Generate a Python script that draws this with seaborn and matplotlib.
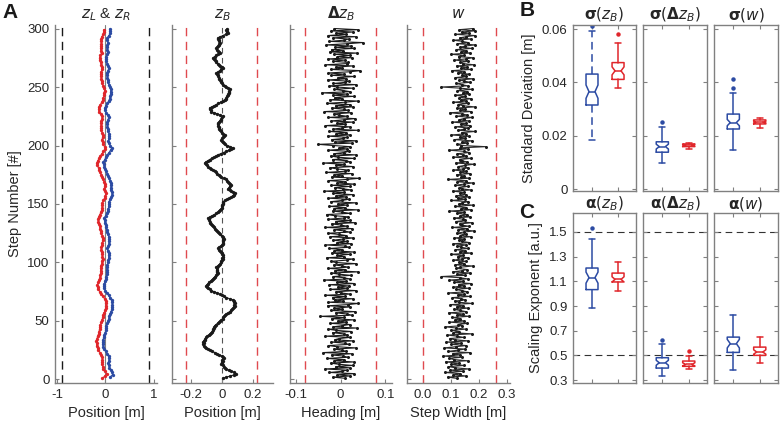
import numpy as np
import matplotlib
matplotlib.use('Agg')
import matplotlib.pyplot as plt
import seaborn as sns

# --- step-by-step traces (values in mm) ---
zB_mm = [5, 30, 55, 80, 95, 80, 62, 45, 30, 22,
         14, 6, -2, 3, -1, 8, 4, 12, 9, 0,
         -15, -28, -45, -60, -74, -86, -98, -110, -112, -118,
         -115, -120, -116, -110, -106, -100, -92, -84, -75, -67,
         -62, -58, -55, -50, -48, -45, -36, -26, -18, -9,
         -2, 6, 11, 15, 19, 30, 40, 52, 62, 68,
         74, 79, 84, 80, 83, 77, 79, 73, 52, 30,
         15, 2, -13, -30, -48, -67, -78, -88, -95, -100,
         -94, -88, -80, -72, -64, -56, -50, -43, -36, -30,
         -24, -28, -30, -33, -31, -34, -26, -19, -10, -6,
         -2, 3, 6, 4, 9, 6, 3, 1, -2, -10,
         -17, -24, -15, -6, 2, 9, 7, 11, 8, 12,
         10, 9, 0, -8, -16, -24, -30, -37, -44, -50,
         -56, -62, -67, -73, -78, -82, -85, -88, -74, -60,
         -47, -34, -26, -18, -10, -2, 0, 4, 2, 6,
         5, 9, 22, 36, 50, 62, 70, 78, 84, 73,
         62, 52, 41, 48, 55, 62, 56, 49, 42, 36,
         30, 14, -2, -11, -20, -28, -37, -45, -56, -66,
         -77, -88, -95, -103, -110, -100, -89, -78, -64, -50,
         -37, -24, -6, 12, 30, 44, 58, 73, 55, 37,
         19, 14, 8, 3, -2, 3, 9, 14, 19, 11,
         3, -5, -13, -15, -17, -19, -21, -22, -24, -18,
         -13, -7, -2, 4, 9, -10, -29, -48, -67, -71,
         -75, -78, -63, -49, -34, -21, -7, 6, 19, 25,
         30, 36, 41, 43, 45, 47, 49, 51, 40, 30,
         20, 9, 4, -2, -7, -13, -17, -20, -24, -27,
         -30, -34, -23, -12, -2, 9, 0, -8, -17, -26,
         -34, -40, -45, -51, -56, -45, -35, -24, -13, -18,
         -24, -29, -34, -29, -24, -19, -16, -13, -16, -19,
         -22, -24, -8, 8, 25, 41, 37, 34, 30, 35]

dzB_mm = [11, -17, 21, -7, 31, -25, 4, 14, -35, 20, -11, 27, -4, -22, 29, -14, 8, -31, 17, 6,
          -20, 25, -39, 13, 3, -15, 34, -8, -27, 18, 10, -21, 28, -13, -3, 22, -34, 15, 7, -18,
          24, -10, -28, 36, -17, 4, 20, -24, 13, -6, 29, -20, 8, -45, 25, 14, -11, 32, -22, 3,
          -14, 21, -29, 17, 40, -27, 6, -13, 27, -18, 11, -35, 22, 1, -10, 34, -24, 15, -6, 18,
          -25, 31, -8, 13, -38, 20, 7, -17, 24, -4, -21, 39, -13, 10, -28, 17, 4, -15, 35, -11,
          -22, 14, 27, -31, 8, -7, 21, -20, 29, -14, 3, -25, 18, 11, -34, 24, -8, 15, -18, 6,
          28, -24, 13, -4, -29, 20, 8, -14, 25, -35, 15, 0, -20, 32, -11, 22, -27, 7, 17, -13,
          -31, 21, 4, -18, 38, -15, 10, -25, 14, -6, 34, -22, 3, 18, -28, 13, -10, 27, -17, 8,
          -36, 24, 6, -13, 20, -21, 31, -7, 11, -27, 15, 42, -20, 4, -14, 25, -32, 10, 17, -8,
          -24, 28, -11, 7, -39, 21, 13, -18, 29, -6, -22, 34, -15, 8, 18, -28, 14, -3, 22, -17,
          -50, 25, -13, 35, -20, 6, 15, -29, 22, -10, 13, -25, 38, -17, 3, 20, -34, 11, -7, 27,
          -21, 8, 32, -27, 14, -4, -15, 24, -36, 17, 7, -20, 28, -11, 21, -31, 10, 39, -24, 4,
          -13, 29, -18, 15, -42, 22, 6, -14, 27, -8, -25, 35, -17, 11, 18, -29, 13, -6, 31, -21,
          8, -27, 20, 44, -22, 4, -11, 28, -34, 14, 17, -18, 10, -28, 25, -7, 21, -15, 36, -24,
          6, -20, 31, -13, 24, -32, 15, 50, -25, 8, 18, -17, 34, -28, 13, -10, 27, -21, 39, -14]

w_mm = [120, 88, 154, 109, 134, 78, 144, 98, 165, 116, 91, 148, 102, 129, 81, 159, 112, 94, 138, 73,
        133, 106, 168, 89, 124, 150, 77, 117, 155, 101, 137, 84, 162, 113, 96, 145, 122, 87, 175, 109,
        130, 99, 152, 119, 80, 141, 126, 158, 94, 147, 115, 134, 103, 165, 123, 143, 92, 154, 131, 110,
        161, 120, 144, 98, 176, 129, 113, 151, 136, 105, 168, 124, 145, 91, 157, 138, 117, 164, 108, 148,
        127, 172, 112, 143, 95, 159, 133, 66, 150, 122, 169, 106, 140, 157, 119, 134, 179, 115, 147, 130,
        154, 109, 138, 162, 124, 144, 99, 173, 131, 150, 116, 161, 137, 123, 155, 108, 166, 141, 129, 148,
        112, 171, 134, 152, 120, 145, 182, 126, 157, 105, 164, 138, 131, 175, 117, 151, 143, 110, 168, 133,
        158, 122, 148, 95, 172, 136, 154, 113, 179, 129, 141, 161, 102, 150, 124, 165, 119, 155, 134, 145,
        106, 171, 140, 130, 159, 115, 148, 178, 123, 152, 89, 164, 137, 147, 120, 168, 133, 155, 109, 144,
        162, 126, 150, 183, 117, 157, 138, 131, 172, 108, 154, 143, 123, 166, 147, 92, 159, 134, 224, 137,
        122, 158, 141, 175, 112, 151, 131, 165, 101, 155, 138, 187, 124, 148, 161, 116, 169, 136, 154, 105,
        164, 129, 145, 176, 119, 158, 140, 96, 171, 133, 151, 122, 185, 144, 126, 162, 109, 155, 137, 173,
        130, 150, 113, 166, 143, 157, 123, 176, 134, 66, 159, 138, 119, 169, 148, 130, 179, 115, 154, 141,
        165, 124, 147, 103, 172, 136, 157, 120, 182, 144, 133, 162, 112, 152, 178, 127, 145, 101, 168, 137,
        155, 119, 175, 134, 150, 186, 123, 161, 141, 108, 171, 131, 154, 185, 116, 164, 138, 185, 129, 180]

# left foot (odd steps) and right foot (even steps)
zL_mm = [-60, -8, 28, -5, -37, -50, -70, -64, -58, -58,
         -82, -108, -141, -160, -180, -178, -183, -170, -160, -138,
         -130, -118, -115, -99, -85, -66, -56, -44, -27, -2,
         8, 20, 17, 15, -14, -50, -80, -112, -145, -158,
         -162, -143, -131, -113, -103, -88, -97, -94, -93, -73,
         -69, -57, -58, -60, -69, -80, -82, -61, -60, -55,
         -57, -63, -83, -93, -111, -119, -134, -141, -152, -137,
         -114, -89, -77, -63, -65, -58, -45, -13, 4, 19,
         -3, -26, -8, -11, -23, -37, -66, -85, -102, -123,
         -140, -162, -175, -156, -127, -104, -69, -37, -5, -12,
         -48, -55, -69, -54, -48, -63, -80, -82, -88, -87,
         -80, -67, -58, -92, -134, -138, -130, -99, -74, -44,
         -37, -22, -22, -14, -27, -45, -63, -70, -84, -88,
         -97, -86, -69, -64, -84, -98, -112, -119, -101, -78,
         -91, -97, -91, -79, -83, -85, -75, -38, -30, -33]
zR_mm = [98, 150, 139, 113, 84, 74, 66, 77, 75, 68,
         36, 8, -18, -42, -55, -52, -47, -32, -21, 2,
         5, 17, 18, 41, 54, 73, 78, 97, 115, 136,
         142, 148, 140, 139, 93, 69, 34, 0, -25, -33,
         -21, -8, 11, 20, 37, 36, 30, 33, 44, 61,
         66, 71, 70, 68, 53, 42, 58, 76, 74, 79,
         72, 59, 40, 30, 14, 5, -9, -15, -22, 6,
         30, 49, 62, 71, 69, 76, 100, 128, 142, 140,
         116, 115, 126, 115, 100, 81, 53, 38, 19, 0,
         -22, -36, -37, -12, 14, 43, 76, 110, 139, 100,
         80, 66, 70, 78, 77, 59, 51, 45, 44, 46,
         59, 68, 55, 18, -6, -12, 15, 45, 70, 90,
         100, 109, 111, 117, 94, 75, 62, 52, 44, 39,
         30, 54, 73, 58, 39, 25, 14, 21, 40, 47,
         36, 37, 45, 53, 45, 41, 72, 107, 99, 100]

# --- box summaries: [lower whisker, q1, median, q3, upper whisker] ---
sd_titles = [r'$\mathbf{\sigma}(z_B)$', r'$\mathbf{\sigma}(\mathbf{\Delta} z_B)$', r'$\mathbf{\sigma}(w)$']
sd_blue = [[0.0184, 0.0315, 0.0365, 0.0431, 0.0594],
           [0.0096, 0.0138, 0.0159, 0.0177, 0.0234],
           [0.0146, 0.0225, 0.0249, 0.0281, 0.0359]]
sd_blue_ci = [[0.0340, 0.0390], [0.0150, 0.0168], [0.0237, 0.0261]]
sd_blue_out = [[0.0612], [0.0252], [0.0378, 0.0413]]
sd_red = [[0.0380, 0.0411, 0.0443, 0.0474, 0.0546],
          [0.0150, 0.0159, 0.0164, 0.0169, 0.0171],
          [0.0230, 0.0244, 0.0251, 0.0259, 0.0266]]
sd_red_ci = [[0.0428, 0.0458], [0.0161, 0.0167], [0.0248, 0.0254]]
sd_red_out = [[0.0580], [], []]

al_titles = [r'$\mathbf{\alpha}(z_B)$', r'$\mathbf{\alpha}(\mathbf{\Delta} z_B)$', r'$\mathbf{\alpha}(w)$']
al_blue = [[0.887, 1.033, 1.130, 1.208, 1.446],
           [0.330, 0.397, 0.440, 0.481, 0.589],
           [0.384, 0.524, 0.595, 0.648, 0.824]]
al_blue_ci = [[1.085, 1.175], [0.420, 0.460], [0.560, 0.630]]
al_blue_out = [[1.536], [0.627], []]
al_red = [[1.019, 1.095, 1.116, 1.167, 1.257],
          [0.386, 0.411, 0.427, 0.454, 0.497],
          [0.438, 0.500, 0.527, 0.567, 0.648]]
al_red_ci = [[1.095, 1.137], [0.415, 0.440], [0.510, 0.545]]
al_red_out = [[], [0.532], []]

BLUE = '#2c4ba3'
RED = '#e0262b'
DASH_RED = '#e04a4f'
GREY = '#808080'
TXT = '#262626'

sns.set_theme(style='ticks')
plt.rcParams['font.family'] = ['Liberation Sans', 'DejaVu Sans']
plt.rcParams['mathtext.fontset'] = 'dejavusans'
plt.rcParams['axes.unicode_minus'] = False
plt.rcParams['axes.edgecolor'] = GREY
plt.rcParams['xtick.color'] = GREY
plt.rcParams['ytick.color'] = GREY
plt.rcParams['xtick.labelcolor'] = TXT
plt.rcParams['ytick.labelcolor'] = TXT
plt.rcParams['axes.labelcolor'] = TXT
plt.rcParams['text.color'] = TXT

W, H = 780, 423
fig = plt.figure(figsize=(7.8, 4.23), dpi=100)


def px_axes(x0, y0, x1, y1):
    return fig.add_axes([x0 / W, 1 - y1 / H, (x1 - x0) / W, (y1 - y0) / H])


zB = np.array(zB_mm) / 1000
dzB = np.array(dzB_mm) / 1000
w = np.array(w_mm) / 1000
zL = np.array(zL_mm) / 1000
zR = np.array(zR_mm) / 1000
steps = np.arange(1, len(zB) + 1)
steps_L = np.arange(1, 2 * len(zL), 2)
steps_R = np.arange(2, 2 * len(zR) + 1, 2)

# ---------------- panel A ----------------
lefts = [(55, 157), (172, 273), (290, 392), (407, 510)]
axA = [px_axes(a, 25, b, 383) for a, b in lefts]


def trace(ax, x, y, color, line=None, ms=2.4):
    sns.lineplot(x=x, y=y, orient='y', sort=False, estimator=None,
                 color=line or color, linewidth=0.8, marker='o', markersize=ms,
                 markeredgewidth=0, markerfacecolor=color, ax=ax)


ax = axA[0]
ax.axvline(0, color=GREY, lw=0.8, zorder=0)
trace(ax, zL, steps_L, RED)
trace(ax, zR, steps_R, BLUE)
for v in (-0.9, 0.9):
    ax.axvline(v, color='k', lw=1, ls=(0, (6, 4)))
ax.set_xlim(-1.04, 1.07)
ax.set_xticks([-1, 0, 1])
ax.set_title(r'$z_L$ & $z_R$', fontsize=11, pad=5)
ax.set_xlabel('Position [m]', fontsize=10.5)
ax.set_ylabel('Step Number [#]', fontsize=10.5)

ax = axA[1]
ax.axvline(0, color='#555555', lw=0.8, ls=(0, (5, 4)), zorder=0)
trace(ax, zB, steps, 'k')
for v in (-0.23, 0.23):
    ax.axvline(v, color=DASH_RED, lw=1, ls=(0, (6, 4)))
ax.set_xlim(-0.32, 0.33)
ax.set_xticks([-0.2, 0, 0.2])
ax.set_xticklabels(['-0.2', '0', '0.2'])
ax.set_title(r'$z_B$', fontsize=11, pad=5)
ax.set_xlabel('Position [m]', fontsize=10.5)

ax = axA[2]
trace(ax, dzB, steps, 'k', ms=2.2)
for v in (-0.08, 0.08):
    ax.axvline(v, color=DASH_RED, lw=1, ls=(0, (6, 4)))
ax.set_xlim(-0.113, 0.115)
ax.set_xticks([-0.1, 0, 0.1])
ax.set_xticklabels(['-0.1', '0', '0.1'])
ax.set_title(r'$\mathbf{\Delta} z_B$', fontsize=11, pad=5)
ax.set_xlabel('Heading [m]', fontsize=10.5)

ax = axA[3]
trace(ax, w, steps, 'k', line='#2a2a2a', ms=2.2)
for v in (0.0, 0.26):
    ax.axvline(v, color=DASH_RED, lw=1, ls=(0, (6, 4)))
ax.set_xlim(-0.056, 0.31)
ax.set_xticks([0, 0.1, 0.2, 0.3])
ax.set_xticklabels(['0.0', '0.1', '0.2', '0.3'])
ax.set_title(r'$w$', fontsize=11, pad=5)
ax.set_xlabel('Step Width [m]', fontsize=10.5)

for i, ax in enumerate(axA):
    ax.set_ylim(-3, 303)
    ax.set_yticks(range(0, 301, 50))
    if i > 0:
        ax.set_yticklabels([])
        ax.set_ylabel('')
    sns.despine(ax=ax)
    ax.tick_params(direction='in', length=3, width=0.8, labelsize=9.5, pad=4)
    for s in ('left', 'bottom'):
        ax.spines[s].set_linewidth(1.0)

# ---------------- panels B and C ----------------
cols = [(573, 636), (643, 707), (714, 778)]
axB = [px_axes(a, 25, b, 191) for a, b in cols]
axC = [px_axes(a, 213, b, 383) for a, b in cols]


def stats(q, ci, out):
    return dict(whislo=q[0], q1=q[1], med=q[2], q3=q[3], whishi=q[4],
                cilo=ci[0], cihi=ci[1], fliers=out)


def draw_pair(ax, qb, cib, ob, qr, cir, orr, dashed_blue):
    for pos, q, ci, out, col, ls in ((1, qb, cib, ob, BLUE, (0, (5, 3)) if dashed_blue else '-'),
                                     (2, qr, cir, orr, RED, '-')):
        ax.bxp([stats(q, ci, out)], positions=[pos], widths=0.46, capwidths=0.24,
               shownotches=True, showfliers=True,
               boxprops=dict(color=col, lw=1.1),
               whiskerprops=dict(color=col, lw=1.1, ls=ls),
               capprops=dict(color=col, lw=1.1),
               medianprops=dict(color=col, lw=1.1),
               flierprops=dict(marker='o', markersize=2.2, markerfacecolor=col,
                               markeredgecolor=col))


for i in range(3):
    ax = axB[i]
    draw_pair(ax, sd_blue[i], sd_blue_ci[i], sd_blue_out[i],
              sd_red[i], sd_red_ci[i], sd_red_out[i], dashed_blue=(i == 0))
    ax.set_ylim(-0.00075, 0.0615)
    ax.set_yticks([0, 0.02, 0.04, 0.06])
    ax.set_yticklabels(['0', '0.02', '0.04', '0.06'] if i == 0 else [])
    ax.set_title(sd_titles[i], fontsize=11, pad=4)

    ax = axC[i]
    ax.axhline(1.5, color='#333333', lw=0.8, ls=(0, (6, 4)), zorder=0)
    ax.axhline(0.5, color='#333333', lw=0.8, ls=(0, (6, 4)), zorder=0)
    draw_pair(ax, al_blue[i], al_blue_ci[i], al_blue_out[i],
              al_red[i], al_red_ci[i], al_red_out[i], dashed_blue=False)
    ax.set_ylim(0.276, 1.654)
    ax.set_yticks([0.3, 0.5, 0.7, 0.9, 1.1, 1.3, 1.5])
    ax.set_yticklabels(['0.3', '0.5', '0.7', '0.9', '1.1', '1.3', '1.5'] if i == 0 else [])
    ax.set_title(al_titles[i], fontsize=11, pad=3)

for ax in axB + axC:
    ax.set_xlim(0.27, 2.69)
    ax.set_xticks([1, 2])
    ax.set_xticklabels([])
    ax.tick_params(direction='in', length=3, width=0.8, labelsize=9.5, pad=4,
                   top=True, right=True)
    for s in ax.spines.values():
        s.set_linewidth(1.0)
        s.set_visible(True)

axB[0].set_ylabel('Standard Deviation [m]', fontsize=10.5, labelpad=4)
axC[0].set_ylabel('Scaling Exponent [a.u.]', fontsize=10.5, labelpad=4)

# panel letters
for letter, x, y in (('A', 10, 12), ('B', 527, 10), ('C', 527, 212)):
    fig.text(x / W, 1 - y / H, letter, fontsize=15, fontweight='bold',
             ha='center', va='center', color='k')

fig.savefig('out.png', dpi=100)
